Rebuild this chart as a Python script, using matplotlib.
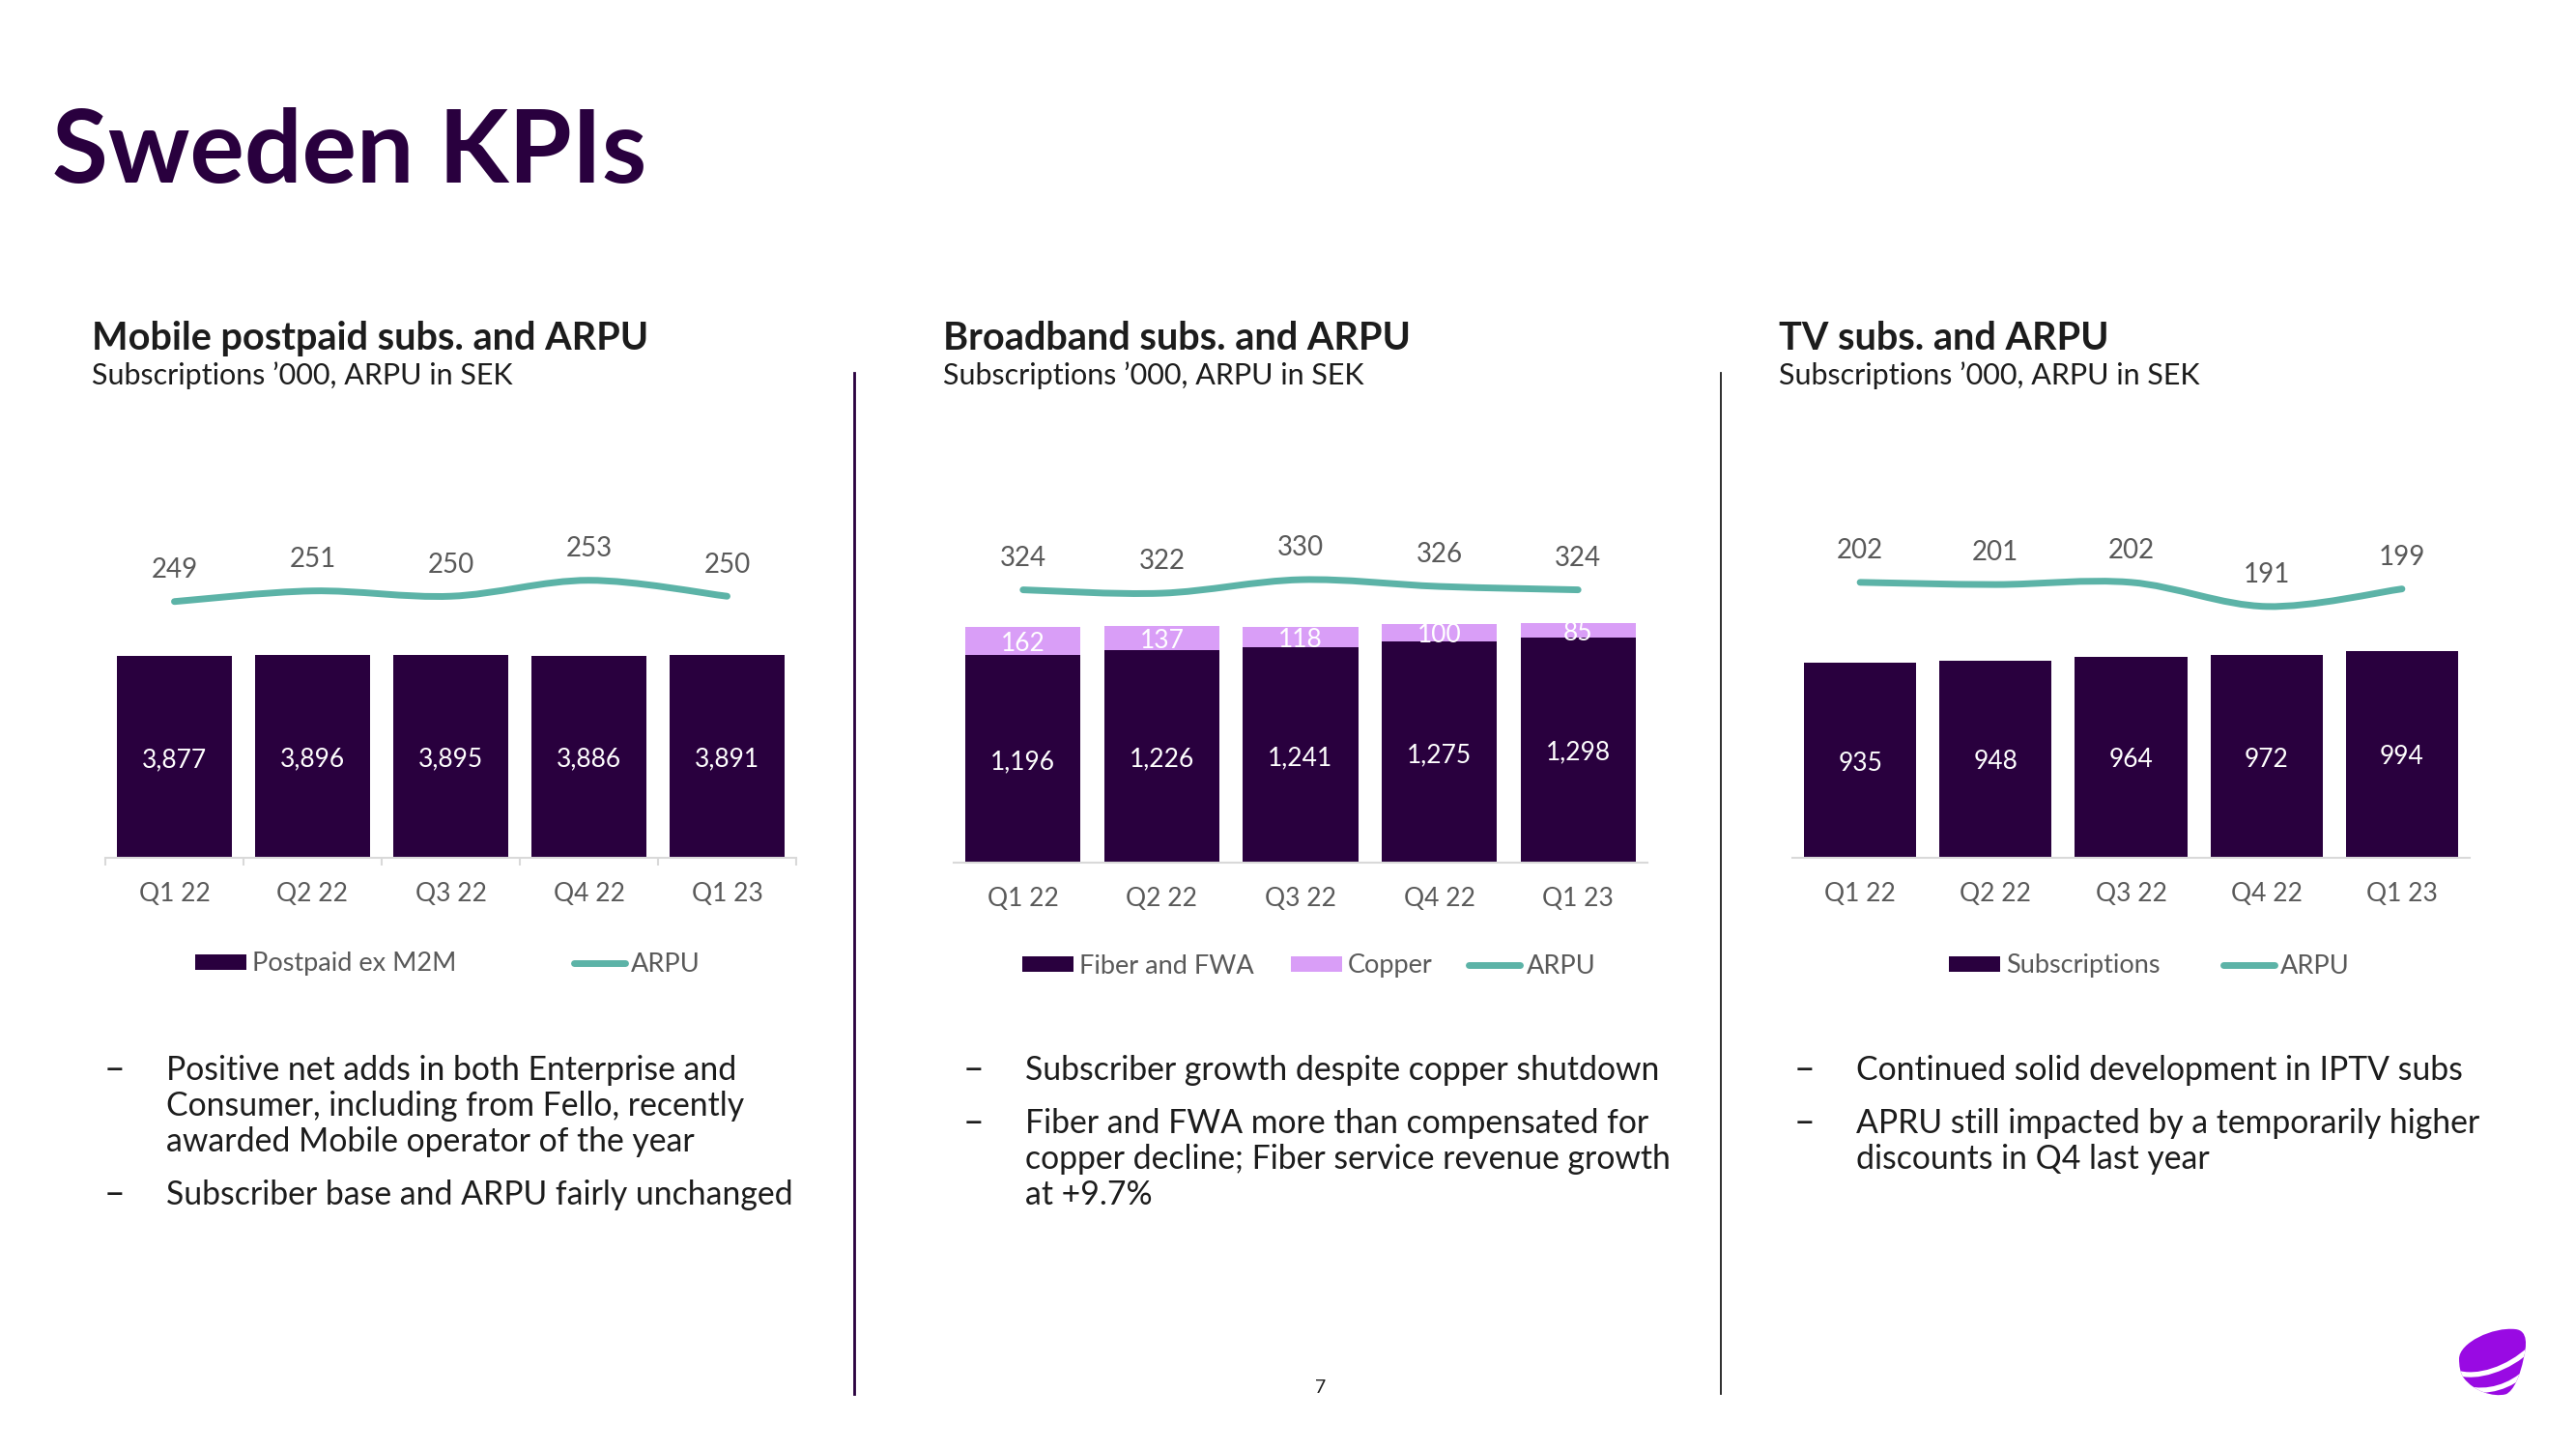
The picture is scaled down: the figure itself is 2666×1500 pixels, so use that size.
import matplotlib.pyplot as plt
from matplotlib.patches import Patch, PathPatch
from matplotlib.lines import Line2D
from matplotlib.path import Path
import matplotlib.transforms as mtransforms
import numpy as np

plt.rcParams['font.family'] = ['Lato', 'DejaVu Sans']

# ---- data ----
quarters = ['Q1 22', 'Q2 22', 'Q3 22', 'Q4 22', 'Q1 23']

mobile_subs = [3877, 3896, 3895, 3886, 3891]
mobile_arpu = [249, 251, 250, 253, 250]

bb_fiber = [1196, 1226, 1241, 1275, 1298]
bb_copper = [162, 137, 118, 100, 85]
bb_arpu = [324, 322, 330, 326, 324]

tv_subs = [935, 948, 964, 972, 994]
tv_arpu = [202, 201, 202, 191, 199]

headings = ['Mobile postpaid subs. and ARPU', 'Broadband subs. and ARPU', 'TV subs. and ARPU']
subheading = 'Subscriptions \u2019000, ARPU in SEK'

bullets_mobile = [['Positive net adds in both Enterprise and',
                   'Consumer, including from Fello, recently',
                   'awarded Mobile operator of the year'],
                  ['Subscriber base and ARPU fairly unchanged']]
bullets_bb = [['Subscriber growth despite copper shutdown'],
              ['Fiber and FWA more than compensated for',
               'copper decline; Fiber service revenue growth',
               'at +9.7%']]
bullets_tv = [['Continued solid development in IPTV subs'],
              ['APRU still impacted by a temporarily higher',
               'discounts in Q4 last year']]

# ---- style ----
PURPLE = '#29003e'
COPPER = '#d99ef7'
TEAL = '#5cb3a7'
GRAY = '#595959'
TEXT = '#1c1c1c'
AXIS = '#d9d9d9'

W, H = 2666, 1500
fig = plt.figure(figsize=(W / 100, H / 100), dpi=100)


def fx(x):
    return x / W


def fy(y):
    return 1 - y / H


def smooth_path(xs, ys):
    # Catmull-Rom style smoothing drawn as cubic Bezier segments
    pts = np.column_stack([xs, ys]).astype(float)
    n = len(pts)
    verts = [pts[0]]
    codes = [Path.MOVETO]
    for i in range(n - 1):
        p0 = pts[i - 1] if i > 0 else pts[i]
        p1, p2 = pts[i], pts[i + 1]
        p3 = pts[i + 2] if i + 2 < n else pts[i + 1]
        verts += [p1 + (p2 - p0) / 6, p2 - (p3 - p1) / 6, p2]
        codes += [Path.CURVE4] * 3
    return Path(verts, codes)


def chart(left, right, top, bottom, series, colors, names, ymax, arpu, arpu_lim,
          leg_x, leg_y, colspace, boundary_ticks=False):
    ax = fig.add_axes([fx(left), fy(bottom), (right - left) / W, (bottom - top) / H])
    x = np.arange(len(quarters))
    base = np.zeros(len(quarters))
    handles = []
    for vals, col, name in zip(series, colors, names):
        bars = ax.bar(x, vals, 0.83, bottom=base, color=col, zorder=2)
        ax.bar_label(bars, fmt='{:,.0f}', label_type='center', color='white',
                     fontsize=19, padding=-2)
        base = base + np.array(vals)
        handles.append(Patch(facecolor=col, label=name))
    ax.set_xlim(-0.5, len(quarters) - 0.5)
    ax.set_ylim(0, ymax)
    for s in ['top', 'left', 'right']:
        ax.spines[s].set_visible(False)
    ax.spines['bottom'].set_color(AXIS)
    ax.spines['bottom'].set_linewidth(1.5)
    ax.set_yticks([])
    ax.set_xticks(x)
    ax.set_xticklabels(quarters, fontsize=19, color=GRAY)
    ax.tick_params(axis='x', length=0, pad=18)
    if boundary_ticks:
        ax.set_xticks(np.arange(-0.5, len(quarters)), minor=True)
        ax.tick_params(axis='x', which='minor', length=6, width=1.5, color=AXIS)

    ax2 = ax.twinx()
    ax2.set_ylim(*arpu_lim)
    ax2.axis('off')
    ax2.add_patch(PathPatch(smooth_path(x, arpu), fill=False, edgecolor=TEAL,
                            lw=5, capstyle='round', joinstyle='round'))
    for xi, v in zip(x, arpu):
        ax2.annotate(str(v), (xi, v), xytext=(0, 23.5), textcoords='offset points',
                     ha='center', va='center', fontsize=20, color=GRAY)
    handles.append(Line2D([], [], color=TEAL, lw=5, solid_capstyle='round', label='ARPU'))
    ax2.legend(handles=handles, loc='center left', bbox_to_anchor=(fx(leg_x), fy(leg_y)),
               bbox_transform=fig.transFigure, ncol=len(handles), frameon=False,
               fontsize=19.5, labelcolor=GRAY, borderpad=0, borderaxespad=0,
               handlelength=1.96, handleheight=0.52, handletextpad=0.22,
               columnspacing=colspace)
    return ax


def bullets(x_text, items, y0=1118):
    y = y0
    for item in items:
        fig.text(fx(x_text - 64), fy(y), '\u2013', fontsize=27, color=TEXT, va='baseline')
        for line in item:
            fig.text(fx(x_text), fy(y), line, fontsize=24.3, color=TEXT, va='baseline')
            y += 37
        y += 18


# ---- title ----
fig.text(fx(54), fy(189), 'Sweden KPIs', fontsize=76, fontweight='bold', color=PURPLE, va='baseline')

# ---- panel headings ----
for xh, head in zip([95, 976, 1841], headings):
    fig.text(fx(xh), fy(362), head, fontsize=28.5, fontweight='bold', color=TEXT, va='baseline')
    fig.text(fx(xh), fy(398), subheading, fontsize=22, color=TEXT, va='baseline')

# ---- charts ----
chart(109, 824, 500, 888, [mobile_subs], [PURPLE], ['Postpaid ex M2M'], 7200,
      mobile_arpu, (200.8, 271.3), 202, 998, 4.5, boundary_ticks=True)
chart(987, 1705, 500, 893, [bb_fiber, bb_copper], [PURPLE, COPPER], ['Fiber and FWA', 'Copper'],
      2189, bb_arpu, (162.6, 387.2), 1058, 1000, 1.4)
chart(1855, 2556, 500, 888, [tv_subs], [PURPLE], ['Subscriptions'], 1800,
      tv_arpu, (76.4, 247.3), 2017, 1000, 2.4)

# ---- commentary ----
bullets(172, bullets_mobile)
bullets(1061, bullets_bb)
bullets(1921, bullets_tv)

# ---- separators ----
fig.add_artist(Line2D([fx(884)] * 2, [fy(386), fy(1443)], color=PURPLE, lw=2))
fig.add_artist(Line2D([fx(1781)] * 2, [fy(386), fy(1443)], color=TEXT, lw=1.3))

# page number
fig.text(fx(1367), fy(1437), '7', fontsize=14, color=TEXT, ha='center', va='center')

# ---- logo (pixel coords, y downward) ----
to_fig = mtransforms.Affine2D().scale(1 / 3, 1 / 3).translate(2530, 1360) \
    .scale(1 / W, -1 / H).translate(0, 1) + fig.transFigure
C4 = Path.CURVE4
body = Path([(45, 140), (45, 90), (150, 40), (220, 48), (260, 52), (255, 100), (245, 140),
             (235, 190), (215, 240), (190, 250), (150, 260), (90, 240), (60, 200),
             (48, 185), (45, 160), (45, 140)],
            [Path.MOVETO] + [C4] * 15)
logo = PathPatch(body, facecolor='#990ae3', edgecolor='none', transform=to_fig)
fig.add_artist(logo)
for stripe in [[(35, 182), (100, 205), (200, 170), (265, 108)],
               [(70, 232), (130, 248), (205, 228), (258, 175)]]:
    sp = PathPatch(Path(stripe, [Path.MOVETO, C4, C4, C4]), fill=False, edgecolor='white',
                   lw=3.8, transform=to_fig)
    fig.add_artist(sp)
    sp.set_clip_path(logo)

fig.savefig('out.png', dpi=100)
